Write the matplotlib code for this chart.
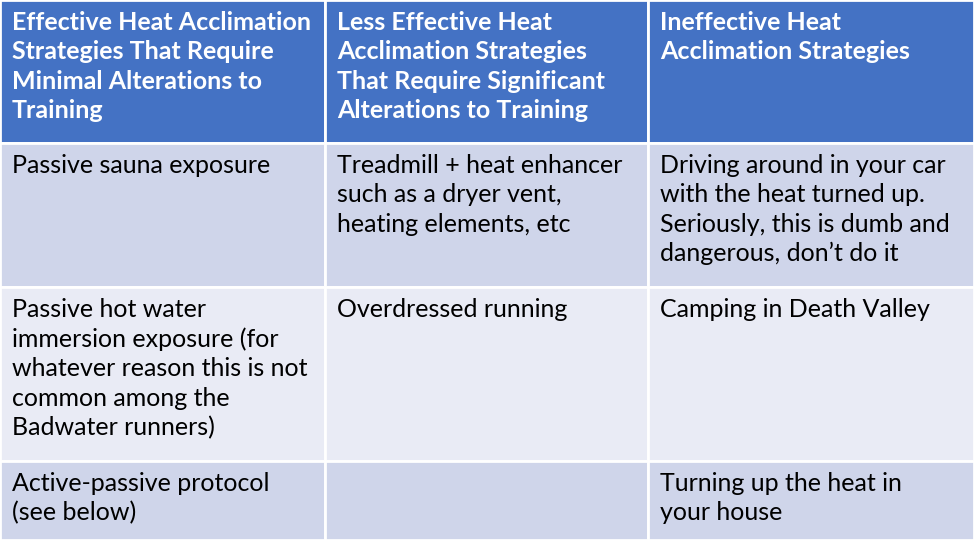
import matplotlib

matplotlib.use("Agg")
import matplotlib.pyplot as plt
from matplotlib.patches import Rectangle

headers = [
    "Effective Heat Acclimation\nStrategies That Require\nMinimal Alterations to\nTraining",
    "Less Effective Heat\nAcclimation Strategies\nThat Require Significant\nAlterations to Training",
    "Ineffective Heat\nAcclimation Strategies",
]
rows = [
    ["Passive sauna exposure",
     "Treadmill + heat enhancer\nsuch as a dryer vent,\nheating elements, etc",
     "Driving around in your car\nwith the heat turned up.\nSeriously, this is dumb and\ndangerous, don\u2019t do it"],
    ["Passive hot water\nimmersion exposure (for\nwhatever reason this is not\ncommon among the\nBadwater runners)",
     "Overdressed running",
     "Camping in Death Valley"],
    ["Active-passive protocol\n(see below)",
     "",
     "Turning up the heat in\nyour house"],
]

col_edges = [0, 325, 648, 974]
row_edges = [0, 143, 287, 461, 540]
header_color = "#4472C4"
row_colors = ["#CFD5EA", "#E9EBF5", "#CFD5EA"]

fig = plt.figure(figsize=(9.74, 5.47), dpi=100)
ax = fig.add_axes([0, 0, 1, 1])
ax.set_xlim(0, 974)
ax.set_ylim(547, 0)
ax.axis("off")

all_rows = [headers] + rows
for r, cells in enumerate(all_rows):
    y0, y1 = row_edges[r], row_edges[r + 1]
    fc = header_color if r == 0 else row_colors[r - 1]
    for c, text in enumerate(cells):
        x0, x1 = col_edges[c], col_edges[c + 1]
        ax.add_patch(Rectangle((x0, y0), x1 - x0, y1 - y0, facecolor=fc,
                               edgecolor="white", linewidth=2))
        ax.text(x0 + 12, y0 + 11, text, ha="left", va="top", fontsize=18,
                family="Lato", linespacing=1.33,
                color="white" if r == 0 else "black",
                fontweight="bold" if r == 0 else "normal")

fig.savefig("out.png", dpi=100)
